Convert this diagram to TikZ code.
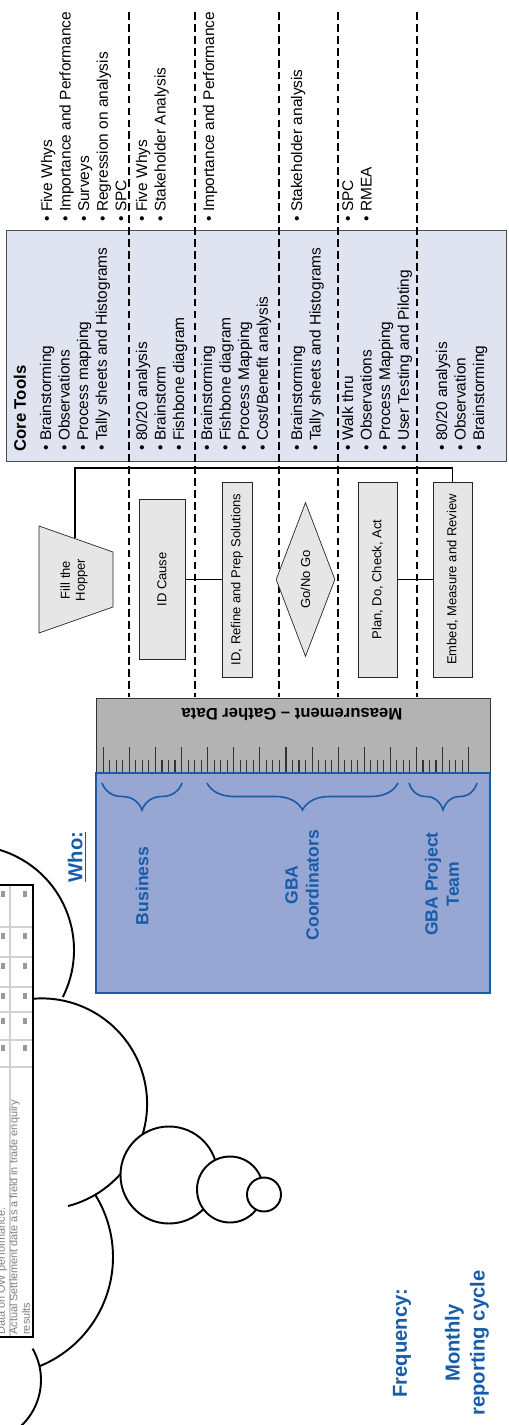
\documentclass[tikz,border=0pt]{standalone}
\usepackage{fontspec}
\setmainfont{Liberation Sans}
\usetikzlibrary{shapes.geometric,decorations.pathreplacing}
\definecolor{coretint}{RGB}{224,228,240}
\definecolor{stepgrey}{RGB}{230,230,230}
\definecolor{rulergrey}{RGB}{179,179,179}
\definecolor{whofill}{RGB}{151,166,210}
\definecolor{gbablue}{RGB}{22,92,170}

\begin{document}
\begin{tikzpicture}[x=0.02cm, y=-0.02cm, every node/.style={inner sep=0pt},
    tool/.style={rotate=90, anchor=base west, font=\fontsize{8.8}{10.6}\selectfont},
    stepbox/.style={draw=black!85, fill=stepgrey, rotate=90, align=center, font=\fontsize{7.4}{8.8}\selectfont},
    bluelabel/.style={rotate=90, align=center, text=gbablue, font=\bfseries\fontsize{10}{12}\selectfont},
    bubble/.style={draw, fill=white, line width=1.1pt}]
    \useasboundingbox (0,0) rectangle (508,1425);

    % core tools panel and stage separators
    \node[draw=black!70, fill=coretint, minimum width=10cm, minimum height=4.62cm] (core) at (256,345.5) {};
    \foreach \x in {129,195,279,338,417}
        \draw[dash pattern=on 4.4pt off 2.4pt, line width=0.6pt] (\x,12) -- (\x,697);

    \node[tool, font=\bfseries\fontsize{9.5}{11}\selectfont] (coretitle) at (26,452) {Core Tools};
    \foreach \x/\items in {51/{Brainstorming,Observations,Process mapping,Tally sheets and Histograms},
                           147/{80/20 analysis,Brainstorm,Fishbone diagram},
                           212/{Brainstorming,Fishbone diagram,Process Mapping,Cost/Benefit analysis},
                           302/{Brainstorming,Tally sheets and Histograms},
                           353/{Walk thru,Observations,Process Mapping,User Testing and Piloting},
                           447/{80/20 analysis,Observation,Brainstorming}}
        \foreach \t [count=\i from 0] in \items
            \node[tool] (core-\x-\i) at (\x+18.6*\i,451) {\textbullet\ \t};

    % further tools above the panel
    \foreach \x/\items in {52/{Five Whys,Importance and Performance,Surveys,Regression on analysis,SPC},
                           147/{Five Whys,Stakeholder Analysis},
                           214/{Importance and Performance},
                           302/{Stakeholder analysis},
                           353/{SPC,RMEA}}
        \foreach \t [count=\i from 0] in \items
            \node[tool] (more-\x-\i) at (\x+18.6*\i,222) {\textbullet\ \t};

    % process steps
    \filldraw[draw=black!85, fill=stepgrey] (39,526) -- (113,552) -- (113,607) -- (39,633) -- cycle;
    \node[rotate=90, align=center, font=\fontsize{7.4}{8.6}\selectfont] (hopper) at (74,580) {Fill the\\Hopper};
    \coordinate (hoppertop) at (75,538);
    \coordinate (looptop) at (75,468);
    \node[stepbox, minimum width=3.2cm, minimum height=0.92cm] (idcause) at (162,579.5) {ID Cause};
    \node[stepbox, minimum width=3.9cm, minimum height=0.6cm] (refine) at (237,579.5) {ID, Refine and Prep Solutions};
    \node[stepbox, diamond, aspect=2.6, minimum width=3.08cm, minimum height=1.18cm] (gonogo) at (305.5,579.5) {Go/No Go};
    \node[stepbox, minimum width=3.9cm, minimum height=0.78cm] (plan) at (377.5,579.5) {Plan, Do, Check, Act};
    \node[stepbox, minimum width=3.9cm, minimum height=0.78cm] (embed) at (452.5,579.5) {Embed, Measure and Review};
    \draw[line width=0.6pt] (idcause) -- (refine);
    \draw[line width=0.6pt] (plan) -- (embed);
    \draw[line width=0.6pt] (embed.east) |- (looptop) -- (hoppertop);

    % measurement ruler
    \node[draw=black!80, fill=rulergrey, minimum width=7.88cm, minimum height=1.48cm] (ruler) at (293,735) {};
    \node[rotate=180, font=\bfseries\fontsize{9.5}{11}\selectfont] (measure) at (292,714) {Measurement -- Gather Data};
    \foreach \i in {0,...,14}
        \draw[black!80, line width=0.6pt] (103.3+26.1*\i,747) -- ++(0,25);
    \foreach \i in {0,...,13}
        \foreach \j in {1,2,3}
            \draw[black!80, line width=0.6pt] (103.3+26.1*\i+6.5*\j,760) -- ++(0,12);

    % who
    \node[draw=gbablue, line width=1.2pt, fill=whofill, minimum width=7.88cm, minimum height=4.4cm] (whobox) at (293,883) {};
    \foreach \a/\b in {102/182,207/398,409/477}
        \draw[gbablue, line width=0.9pt, decorate, decoration={brace, mirror, amplitude=0.54cm}] (\a,783) -- (\b,783);
    \node[bluelabel] (business) at (142,886) {Business};
    \node[bluelabel] (coordinators) at (302,885) {GBA\\Coordinators};
    \node[bluelabel] (projectteam) at (442,884) {GBA Project\\Team};
    \node[bluelabel, font=\bfseries\fontsize{11.5}{13}\selectfont] (who) at (77,857) {\underline{Who:}};

    \node[bluelabel, font=\bfseries\fontsize{11.5}{14.2}\selectfont] (frequency) at (402,1343) {Frequency:};
    \node[bluelabel, font=\bfseries\fontsize{11.5}{14.2}\selectfont] (cycle) at (467,1343) {Monthly\\reporting cycle};

    % thought cloud with report snapshot
    \begin{scope}[y=0.02cm]
        \clip (0,0) rectangle (508,-1425);
        \draw[line width=1.1pt] (-30.6,-950) ++(-26.7:104.6) arc[start angle=-26.7, end angle=100, radius=104.6];
        \draw[line width=1.1pt] (41.6,-1103.9) ++(100:105.5) arc[start angle=100, end angle=-75.5, radius=105.5];
        \draw[line width=1.1pt] (-4.9,-1257) ++(32:117.9) arc[start angle=32, end angle=-67.6, radius=117.9];
        \draw[line width=1.1pt] (-21.8,-1380) ++(30:62.8) arc[start angle=30, end angle=-80, radius=62.8];
    \end{scope}
    \filldraw[fill=white, line width=1.1pt] (-5,885) rectangle (33,1337);
    \foreach \y in {927,957,987,1012,1040,1067}
        \draw[black!18, line width=1.3pt] (-5,\y) -- (32,\y);
    \draw[black!18, line width=1.3pt] (10,886) -- (10,1336);
    \foreach \y in {891,933,963,993,1018,1045} {
        \fill[black!40] (1,\y) rectangle ++(4,6);
        \fill[black!40] (23,\y) rectangle ++(4,6);
    }
    \foreach \x/\t in {5/Data on OW performance.,17.5/Actual Settlement date as a field in trade enquiry,30/results}
        \node[rotate=90, anchor=base west, text=black!50, font=\fontsize{6.2}{7}\selectfont] (snap-\x) at (\x,1335) {\t};
    \filldraw[bubble] (169,1175) circle[radius=48.5];
    \filldraw[bubble] (230,1189.5) circle[radius=33];
    \filldraw[bubble] (264,1194.5) circle[radius=17];
\end{tikzpicture}
\end{document}
